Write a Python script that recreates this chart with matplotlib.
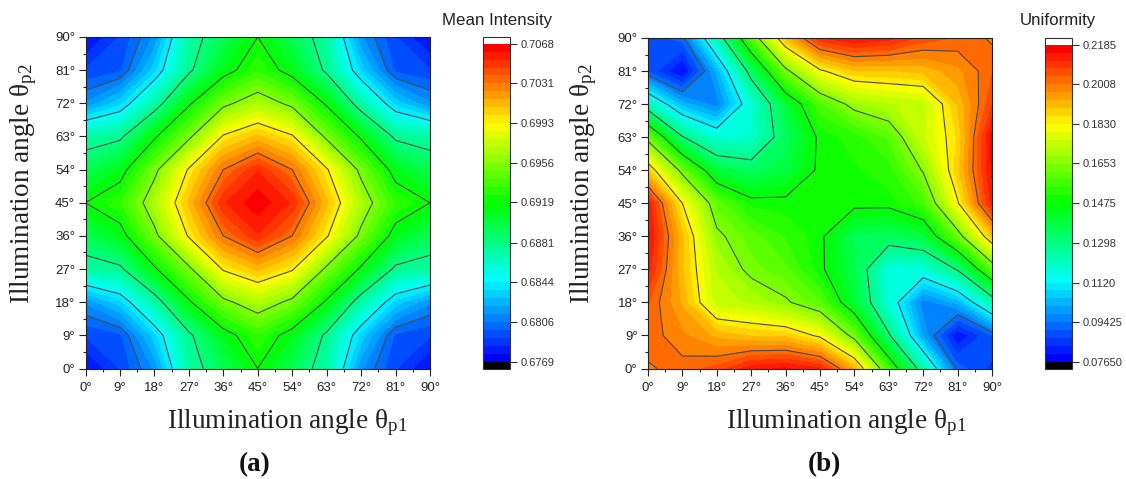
import matplotlib
matplotlib.use('Agg')
import matplotlib.pyplot as plt
from matplotlib.colors import LinearSegmentedColormap
import numpy as np

W, H = 1126, 479

angles = [0, 9, 18, 27, 36, 45, 54, 63, 72, 81, 90]
angle_labels = ['0°', '9°', '18°', '27°', '36°', '45°', '54°', '63°', '72°', '81°', '90°']

# rows are theta_p2 = 0..90, columns are theta_p1 = 0..90
mean_intensity = [
    [.6775, .6792, .6815, .6871, .6895, .6919, .6895, .6871, .6815, .6792, .6775],
    [.6792, .6797, .6833, .6877, .6911, .6932, .6911, .6877, .6833, .6797, .6792],
    [.6815, .6833, .6870, .6916, .6951, .6968, .6951, .6916, .6870, .6833, .6815],
    [.6871, .6877, .6916, .6952, .6995, .7010, .6995, .6952, .6916, .6877, .6871],
    [.6895, .6911, .6951, .6995, .7031, .7052, .7031, .6995, .6951, .6911, .6895],
    [.6919, .6932, .6968, .7010, .7052, .7066, .7052, .7010, .6968, .6932, .6919],
    [.6895, .6911, .6951, .6995, .7031, .7052, .7031, .6995, .6951, .6911, .6895],
    [.6871, .6877, .6916, .6952, .6995, .7010, .6995, .6952, .6916, .6877, .6871],
    [.6815, .6833, .6870, .6916, .6951, .6968, .6951, .6916, .6870, .6833, .6815],
    [.6792, .6797, .6833, .6877, .6911, .6932, .6911, .6877, .6833, .6797, .6792],
    [.6775, .6792, .6815, .6871, .6895, .6919, .6895, .6871, .6815, .6792, .6775],
]
uniformity = [
    [.2002, .2025, .2057, .2136, .2155, .2120, .1925, .1560, .1242, .0925, .0860],
    [.2030, .1980, .1925, .1897, .1889, .1815, .1620, .1310, .1005, .0800, .0907],
    [.2047, .1929, .1735, .1718, .1665, .1590, .1403, .1180, .0955, .1025, .1235],
    [.2127, .1904, .1722, .1630, .1590, .1490, .1375, .1165, .1174, .1306, .1590],
    [.2160, .1907, .1670, .1600, .1540, .1490, .1360, .1348, .1390, .1612, .1895],
    [.2137, .1830, .1603, .1500, .1495, .1500, .1495, .1495, .1560, .1822, .2130],
    [.1885, .1625, .1394, .1345, .1390, .1490, .1505, .1530, .1660, .1890, .2156],
    [.1620, .1305, .1179, .1195, .1350, .1490, .1525, .1590, .1752, .1870, .2165],
    [.1225, .1031, .0960, .1178, .1395, .1572, .1682, .1721, .1736, .1905, .2074],
    [.0900, .0790, .1023, .1338, .1630, .1818, .1895, .1897, .1912, .1960, .2040],
    [.0880, .0925, .1233, .1585, .1906, .2110, .2155, .2129, .2064, .2040, .2000],
]
mean_ticks = [.6769, .6806, .6844, .6881, .6919, .6956, .6993, .7031, .7068]
mean_tick_labels = ['0.6769', '0.6806', '0.6844', '0.6881', '0.6919', '0.6956', '0.6993', '0.7031', '0.7068']
unif_ticks = [.0765, .09425, .1120, .1298, .1475, .1653, .1830, .2008, .2185]
unif_tick_labels = ['0.07650', '0.09425', '0.1120', '0.1298', '0.1475', '0.1653', '0.1830', '0.2008', '0.2185']

plt.rcParams['font.family'] = ['Liberation Sans', 'DejaVu Sans']
plt.rcParams['mathtext.fontset'] = 'custom'
plt.rcParams['mathtext.rm'] = 'Liberation Serif'
plt.rcParams['mathtext.default'] = 'rm'

rainbow = LinearSegmentedColormap.from_list(
    'rainbow4', ['#0000ff', '#00ffff', '#00ff00', '#ffff00', '#ff0000'], N=40)
rainbow.set_under('black')
rainbow.set_over('white')

fig = plt.figure(figsize=(W / 100, H / 100), dpi=100)


def px_axes(x0, y0, x1, y1):
    return fig.add_axes([x0 / W, 1 - y1 / H, (x1 - x0) / W, (y1 - y0) / H])


def panel(box, cbox, z, ticks, tick_labels, title, title_x, letter, letter_x, xlabel_x, ylabel_x):
    ax = px_axes(*box)
    cax = px_axes(*cbox)
    levels = np.linspace(ticks[0], ticks[-1], 41)
    cf = ax.contourf(angles, angles, z, levels=levels, cmap=rainbow, extend='both')
    ax.contour(angles, angles, z, levels=ticks[1:-1], colors='#4a4a4a', linewidths=0.8)
    ax.set_xticks(angles, angle_labels)
    ax.set_yticks(angles, angle_labels)
    ax.set_xticks(np.arange(4.5, 90, 9), minor=True)
    ax.set_yticks(np.arange(4.5, 90, 9), minor=True)
    ax.tick_params(which='major', length=5, width=0.8, labelsize=9.5, colors='#222222', pad=2.5)
    ax.tick_params(axis='x', which='major', pad=4.5)
    ax.tick_params(which='minor', length=2.5, width=0.8, colors='#222222')
    for s in ax.spines.values():
        s.set_linewidth(0.8)
        s.set_color('#222222')

    cb = fig.colorbar(cf, cax=cax, extend='both', extendrect=True, extendfrac=0.021)
    cb.set_ticks(ticks, labels=tick_labels)
    cb.minorticks_off()
    cb.ax.tick_params(length=5, width=0.8, labelsize=8, colors='#333333', pad=2.5)
    cb.outline.set_linewidth(0.8)
    cb.outline.set_edgecolor('#333333')

    fig.text(title_x / W, 1 - 20 / H, title, fontsize=12.2, ha='center', va='center', color='#222222')
    label = 'Illumination angle θ$_{\\mathrm{%s}}$'
    fig.text(xlabel_x / W, 1 - 423 / H, label % 'p1', family='Liberation Serif', fontsize=19.6,
             ha='center', va='center', color='#222222')
    fig.text(ylabel_x / W, 1 - 184 / H, label % 'p2', family='Liberation Serif', fontsize=19.6,
             rotation=90, ha='center', va='center', color='#222222')
    fig.text(letter_x / W, 1 - 465 / H, letter, family='Liberation Serif', fontsize=19.5,
             fontweight='bold', ha='center', va='center', color='#111111')


panel((85.5, 37, 430, 368.5), (483, 37, 510, 368.5), mean_intensity, mean_ticks, mean_tick_labels,
      'Mean Intensity', 497, '(a)', 255, 287, 24)
panel((648, 38, 992, 368.5), (1045, 38, 1072, 368.5), uniformity, unif_ticks, unif_tick_labels,
      'Uniformity', 1058, '(b)', 824, 846, 584)

fig.savefig('out.png', dpi=100)
